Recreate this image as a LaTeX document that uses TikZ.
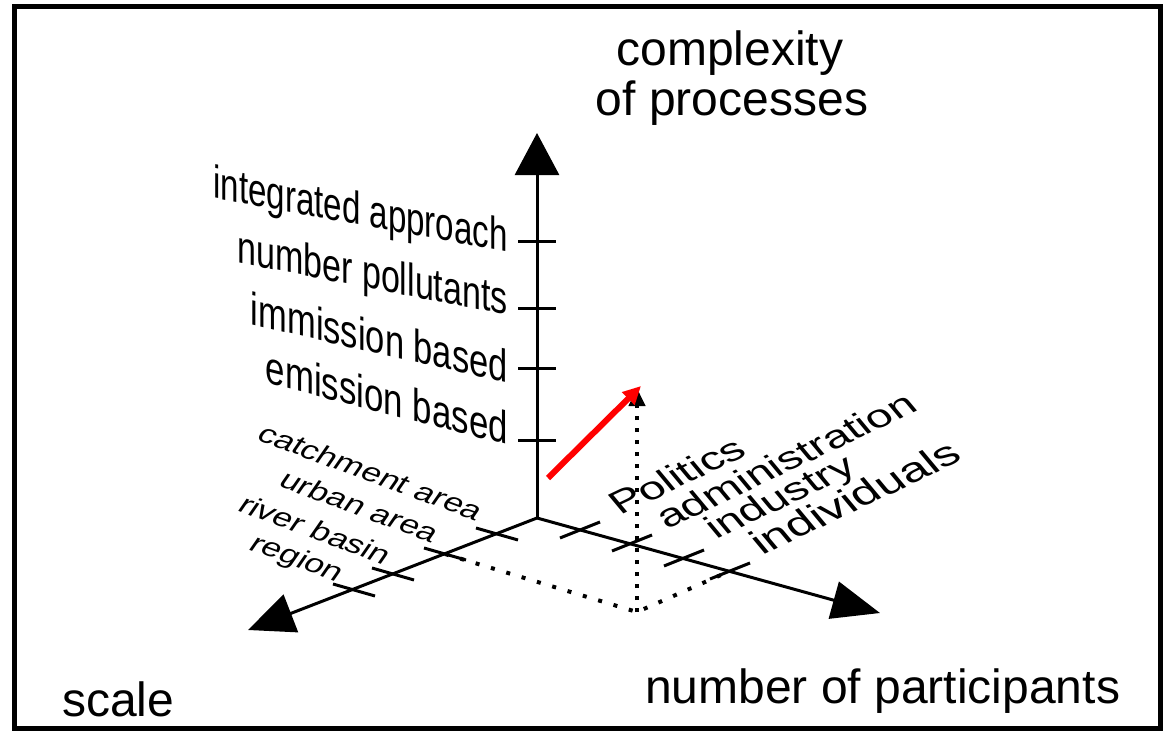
\documentclass[tikz,border=0pt]{standalone}
\usepackage{fontspec}
\setmainfont{Liberation Sans}
\usetikzlibrary{arrows.meta}
\tikzset{
  axis/.style={line width=3pt},
  tickmark/.style={line width=3pt},
  dotline/.style={line width=4pt, dash pattern=on 4pt off 12pt},
  vdotline/.style={line width=4pt, dash pattern=on 4pt off 8pt},
  redarrow/.style={line width=6pt, red, -{Triangle[length=18pt,width=17pt]}},
  title/.style={inner sep=0pt, anchor=base, font=\fontsize{48}{50}\selectfont},
  vlabel/.style={inner sep=0pt, anchor=base east, transform shape, font=\fontsize{46}{46}\selectfont},
  slabel/.style={inner sep=0pt, anchor=base east, transform shape, cm={1,-0.37,0.5,0.72,(0,0)}, font=\fontsize{32}{32}\selectfont},
  plabel/.style={inner sep=0pt, anchor=base west, transform shape, cm={0.903,0.43,-0.5,0.6,(0,0)}, font=\fontsize{45}{45}\selectfont}
}
\begin{document}
\begin{tikzpicture}[x=1pt,y=-1pt]
\useasboundingbox (0,0) rectangle (1163,731);
\draw[line width=5pt] (14.5,6.5) rectangle (1160.5,728.5);
\coordinate (O) at (537,518);
\coordinate (zTip) at (537,133);
\coordinate (sTip) at (248,630);
\coordinate (pTip) at (880,613);
\draw[axis,-{Triangle[length=42pt,width=44pt]}] (O) -- (zTip);
\draw[axis,-{Triangle[length=46pt,width=40pt]}] (O) -- (sTip);
\draw[axis,-{Triangle[length=48pt,width=38pt]}] (O) -- (pTip);
\foreach \y in {241,308,368,440} {
  \draw[tickmark] (518,\y) -- (556,\y);
}
\foreach \x/\y in {497/534, 445/554, 393/574, 354/590} {
  \draw[tickmark] (\x-21,\y-6) -- (\x+21,\y+6);
}
\foreach \x/\y in {580/530, 632/543, 684/558, 730/571} {
  \draw[tickmark] (\x+20,\y-8) -- (\x-20,\y+8);
}
\coordinate (dA) at (445,554);
\coordinate (dB) at (637,612);
\coordinate (dC) at (730,571);
\coordinate (dTop) at (637,388);
\draw[dotline] (dA) -- (dB) -- (dC);
\draw[vdotline,-{Triangle[length=18pt,width=16pt]}] (dB) -- (dTop);
\coordinate (rA) at (548,478);
\coordinate (rB) at (641,386);
\draw[redarrow] (rA) -- (rB);
\node[vlabel, cm={0.72,-0.132,0,1,(0,0)}] (lInt) at (508,252) {integrated approach};
\node[vlabel, cm={0.74,-0.143,0,1,(0,0)}] (lNum) at (508,315) {number pollutants};
\node[vlabel, cm={0.75,-0.170,0,1,(0,0)}] (lImm) at (508,383) {immission based};
\node[vlabel, cm={0.757,-0.194,0,1,(0,0)}] (lEmi) at (508,445) {emission based};
\node[slabel] (sCat) at (476,521) {catchment area};
\node[slabel] (sUrb) at (432,543) {urban area};
\node[slabel] (sRiv) at (384,565) {river basin};
\node[slabel] (sReg) at (337,582) {region};
\node[plabel] (pPol) at (620,516) {Politics};
\node[plabel] (pAdm) at (667,530) {administration};
\node[plabel] (pInd) at (716,540) {industry};
\node[plabel, font=\fontsize{48}{48}\selectfont] (pIdv) at (762,556) {individuals};
\node[title] (tCompl) at (730,65) {complexity};
\node[title] (tProc) at (732,115) {of processes};
\node[title, anchor=base west] (tScale) at (62,716) {scale};
\node[title, anchor=base west] (tPart) at (645,703) {number of participants};
\end{tikzpicture}
\end{document}
